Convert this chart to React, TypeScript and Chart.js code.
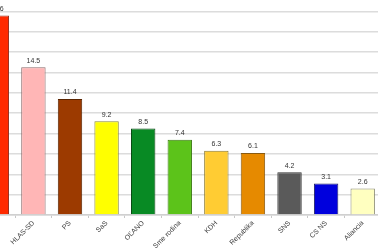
import React, { useEffect, useRef } from "react";
import { Chart, registerables } from "chart.js";

Chart.register(...registerables);

const categories = ["SMER-SD", "HLAS-SD", "PS", "SaS", "OĽANO", "Sme rodina", "KDH", "Republika", "SNS", "CS NS", "Aliancia"];
const values = [19.6, 14.5, 11.4, 9.2, 8.5, 7.4, 6.3, 6.1, 4.2, 3.1, 2.6];
const barColors = ["#ff2a00", "#ffb6b6", "#9c3a00", "#ffff00", "#088a24", "#5cc31a", "#ffcc33", "#e68a00", "#5a5a5a", "#0000dd", "#ffffc0"];
const borderColors = ["#993322", "#8a6a6a", "#5a2400", "#8a8a30", "#0a4a14", "#3a7a10", "#8a7a30", "#8a5a10", "#333333", "#222266", "#8a8a70"];

const valueLabels = {
  id: "valueLabels",
  afterDatasetsDraw(chart: any) {
    const ctx = chart.ctx;
    const meta = chart.getDatasetMeta(0);
    ctx.save();
    ctx.font = "7px 'Liberation Sans', Arial, sans-serif";
    ctx.fillStyle = "#333333";
    ctx.textAlign = "center";
    ctx.textBaseline = "bottom";
    meta.data.forEach((bar: any, i: number) => {
      ctx.fillText(values[i].toFixed(1), bar.x, bar.y - 3);
    });
    ctx.restore();
  },
};

export default function App() {
  const ref = useRef<HTMLCanvasElement>(null);
  useEffect(() => {
    if (!ref.current) return;
    const chart = new Chart(ref.current, {
      type: "bar",
      data: {
        labels: categories,
        datasets: [
          {
            data: values,
            backgroundColor: barColors,
            borderColor: borderColors,
            borderWidth: 1,
            barPercentage: 0.667,
            categoryPercentage: 1,
          },
        ],
      },
      options: {
        responsive: false,
        animation: false,
        layout: { padding: { top: 20, left: 0, right: 0, bottom: 0 } },
        plugins: { legend: { display: false }, tooltip: { enabled: false } },
        scales: {
          x: {
            grid: { drawOnChartArea: false, drawTicks: true, tickLength: 3, color: "#c8c8c8" },
            border: { display: true, color: "#d0d0d0", width: 1.5 },
            ticks: {
              minRotation: 45,
              maxRotation: 45,
              autoSkip: false,
              padding: 1,
              color: "#3a3a3a",
              font: { family: "'Liberation Sans', Arial, sans-serif", size: 7 },
            },
            afterFit: (scale: any) => {
              scale.height = 40;
            },
          },
          y: {
            min: 0,
            max: 22,
            ticks: { display: false, stepSize: 2 },
            grid: { drawTicks: false, color: "#dcdcdc", lineWidth: 1.5 },
            border: { display: false },
          },
        },
      },
      plugins: [valueLabels],
    });
    return () => chart.destroy();
  }, []);
  return (
    <div style={{ position: "absolute", left: 0, top: 0, width: 378, height: 252, overflow: "hidden", background: "#fff" }}>
      <div style={{ position: "absolute", left: -27, top: -29, width: 408, height: 284 }}>
        <canvas ref={ref} width={408} height={284} style={{ display: "block" }} />
      </div>
    </div>
  );
}
